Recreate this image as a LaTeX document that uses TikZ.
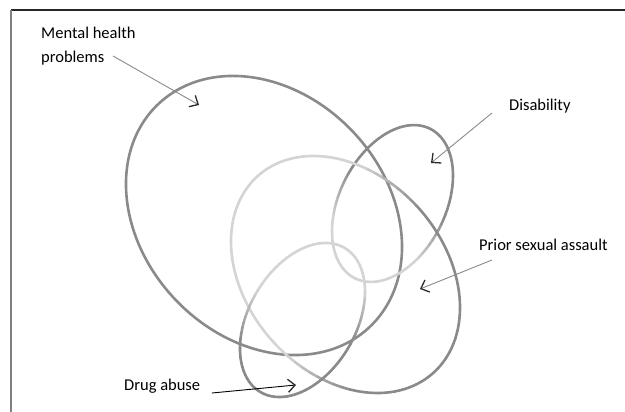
\documentclass[tikz,border=0pt]{standalone}
\usepackage{fontspec}
\setmainfont{Carlito}
\usetikzlibrary{arrows.meta}
\definecolor{ringdark}{HTML}{8A8A8A}
\definecolor{ringlight}{HTML}{D4D4D4}
\definecolor{tipdark}{HTML}{2A2A2A}
\tikzset{ring/.style = {line width = 2.6pt, line cap = round}}
\tikzset{labeltext/.style = {inner sep = 0, align = left,
                             font = \fontsize{16.5}{24}\selectfont}}
\tikzset{pointer/.style = {draw = ringdark, line width = 0.9pt,
                           -{Straight Barb[length = 7pt, width = 13pt, line width = 1.3pt,
                                          color = tipdark]}}}
% centre x, centre y, x radius, y radius, rotation, shade direction, shade offset, shade width
\newcommand{\shadedring}[8]{%
  \begin{scope}[shift = {(#1, #2)}, rotate = #5]
    \foreach \ang in {0, 4, ..., 356} {
      \pgfmathsetmacro{\mx}{#3*cos(\ang+2)*cos(#5) - #4*sin(\ang+2)*sin(#5)}
      \pgfmathsetmacro{\my}{#3*cos(\ang+2)*sin(#5) + #4*sin(\ang+2)*cos(#5)}
      \pgfmathsetmacro{\sv}{(\mx*cos(#6) + \my*sin(#6) - #7)/#8 + 0.5}
      \pgfmathsetmacro{\pc}{100*max(0, min(1, \sv))}
      \draw [ring, color = ringdark!\pc!ringlight] (\ang:#3 and #4)
        arc [start angle = \ang, end angle = \ang+4, x radius = #3, y radius = #4];
    }
  \end{scope}}

\begin{document}
\begin{tikzpicture}[x = 1pt, y = 1pt]
    \useasboundingbox (0, 0) rectangle (625, 412);

    % frame
    \draw [line width = 1.2pt, color = black!85] (11, 402) -- (625, 402);
    \draw [line width = 1.2pt, color = black!50] (11, 402) -- (11, 0);

    % mental health
    \draw [ring, color = ringdark, rotate around = {-46.4:(264, 196.5)}]
      (264, 196.5) ellipse [x radius = 153.6, y radius = 122.2];
    % disability, prior sexual assault, drug abuse
    \shadedring{392.5}{208.5}{83.7}{53}{63.2}{63}{-15}{50}
    \shadedring{345.5}{137.5}{131.9}{98.8}{-48.5}{-21}{10}{70}
    \shadedring{302.5}{92}{83.5}{53.6}{59.8}{-90}{-5}{50}

    \node [labeltext, anchor = base west] (mental) at (41, 349) {Mental health\\problems};
    \node [labeltext, anchor = base west] (disab) at (509, 301) {Disability};
    \node [labeltext, anchor = base west] (prior) at (479, 161) {Prior sexual assault};
    \node [labeltext, anchor = base west] (drug) at (124, 21) {Drug abuse};

    \coordinate (mental-tail) at (113, 356);
    \coordinate (mental-head) at (199, 307);
    \coordinate (disab-tail) at (492, 299);
    \coordinate (disab-head) at (431, 249);
    \coordinate (prior-tail) at (492, 152);
    \coordinate (prior-head) at (420, 123);
    \coordinate (drug-tail) at (212, 19);
    \coordinate (drug-head) at (296, 27);

    \draw [pointer] (mental-tail) -- (mental-head);
    \draw [pointer] (disab-tail) -- (disab-head);
    \draw [pointer] (prior-tail) -- (prior-head);
    \draw [pointer, draw = black] (drug-tail) -- (drug-head);
\end{tikzpicture}
\end{document}
